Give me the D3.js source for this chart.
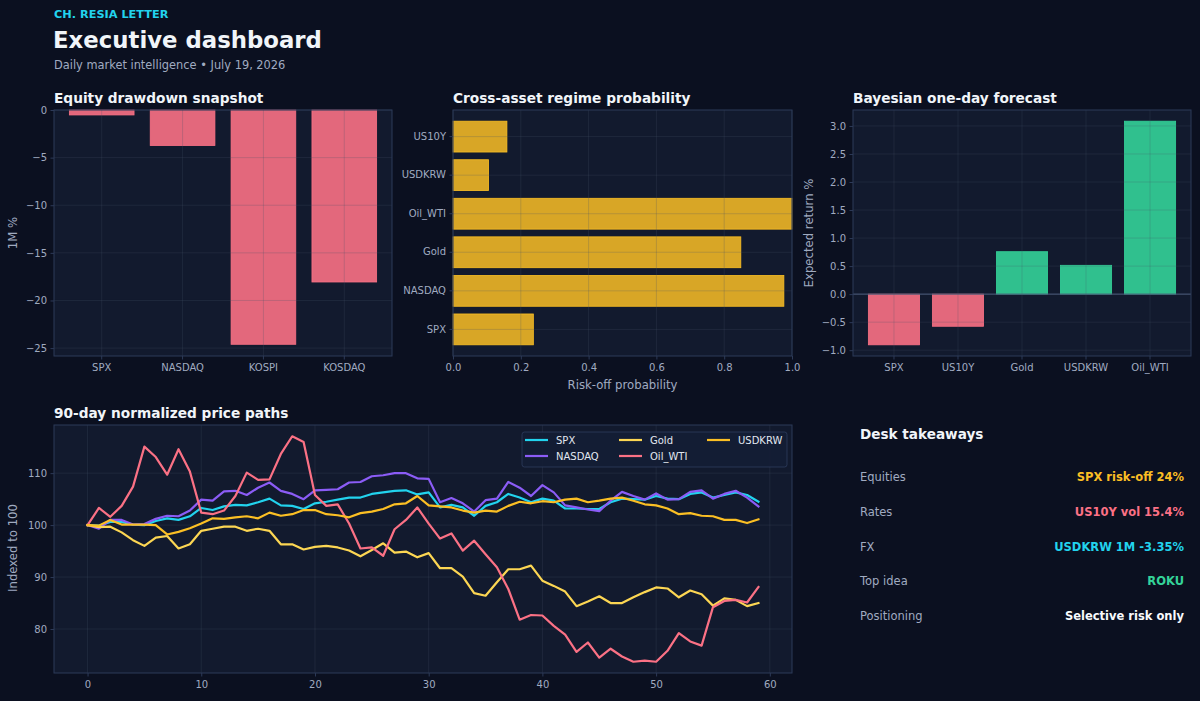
<!DOCTYPE html>
<html><head><meta charset="utf-8">
<script src="https://cdn.jsdelivr.net/npm/d3@7"></script>
<style>
html,body{margin:0;padding:0;background:#0b1020;}
svg{display:block;font-family:"DejaVu Sans",sans-serif;}
</style></head><body>
<svg id="c" width="1200" height="701"></svg>
<script>
// ---------------- DATA ----------------
const drawdownCats = ["SPX", "NASDAQ", "KOSPI", "KOSDAQ"];
const drawdownVals = [-0.52, -3.73, -24.6, -18.06];
const drawdownTicks = [0, -5, -10, -15, -20, -25];

const regimeCats = ["SPX", "NASDAQ", "Gold", "Oil_WTI", "USDKRW", "US10Y"];
const regimeVals = [0.237, 0.976, 0.849, 1.0, 0.105, 0.159];
const regimeTicks = [0, 0.2, 0.4, 0.6, 0.8, 1.0];

const forecastCats = ["SPX", "US10Y", "Gold", "USDKRW", "Oil_WTI"];
const forecastVals = [-0.904, -0.573, 0.757, 0.514, 3.085];
const forecastTicks = [-1.0, -0.5, 0, 0.5, 1.0, 1.5, 2.0, 2.5, 3.0];

const pathNames = ["SPX", "NASDAQ", "Gold", "Oil_WTI", "USDKRW"];
const spxPath = [100,99.9,100.6,100.6,100.1,100.0,100.8,101.3,101.0,101.7,103.3,102.9,103.6,103.9,103.8,104.4,105.1,103.8,103.7,103.1,104.2,104.5,104.9,105.3,105.3,106.0,106.3,106.6,106.7,105.9,106.3,103.4,103.9,103.4,101.8,103.7,104.4,106.0,105.3,104.4,105.1,104.7,103.2,103.2,103.1,103.1,104.4,105.1,105.0,104.9,105.6,105.1,105.0,106.0,106.3,105.3,105.8,106.3,105.8,104.5];
const nasdaqPath = [100,99.3,101.0,101.0,100.1,100.2,101.2,101.8,101.7,102.8,104.9,104.7,106.5,106.6,105.8,107.2,108.2,106.6,106.0,105.0,106.7,106.8,106.9,108.2,108.3,109.4,109.6,110.0,110.0,109.0,108.9,104.4,105.2,104.2,102.6,104.8,105.1,108.3,107.2,105.6,107.7,106.3,103.8,103.4,103.0,102.7,104.7,106.4,105.6,104.9,106.1,104.9,105.0,106.4,106.7,105.1,106.0,106.6,105.3,103.6];
const goldPath = [100,99.6,99.7,98.6,97.1,96.0,97.6,97.9,95.5,96.3,98.9,99.3,99.7,99.7,98.9,99.3,98.9,96.3,96.3,95.3,95.8,96.0,95.7,95.1,94.0,95.2,96.5,94.7,94.9,93.8,94.6,91.7,91.7,90.1,86.9,86.4,89.0,91.5,91.5,92.2,89.3,88.3,87.2,84.4,85.3,86.3,85.0,85.0,86.1,87.1,88.0,87.8,86.1,87.4,86.7,84.5,85.9,85.6,84.4,85.0];
const oilPath = [100,103.3,101.6,103.7,107.4,115.1,113.1,109.7,114.6,110.3,102.4,102.1,102.8,105.6,110.1,108.7,108.8,113.7,117.1,116.0,105.8,103.7,104.0,100.3,95.5,95.7,94.1,99.2,101.0,103.4,100.3,97.4,98.4,95.1,97.0,94.4,91.9,87.7,81.8,82.7,82.6,80.6,78.9,75.6,77.4,74.5,76.2,74.7,73.7,73.9,73.7,75.8,79.2,77.6,76.8,84.2,85.4,85.6,85.1,88.1];
const usdkrwPath = [100,99.9,101.0,100.1,100.1,100.1,100.0,98.2,98.7,99.4,100.3,101.3,101.2,101.5,101.7,101.3,102.4,101.8,102.1,102.9,102.9,102.1,101.9,101.5,102.3,102.6,103.1,104.0,104.2,105.6,103.8,103.6,103.4,102.8,102.4,102.8,102.6,103.7,104.5,104.2,104.6,104.4,104.9,105.1,104.4,104.7,105.1,105.3,104.7,104.0,103.8,103.2,102.1,102.3,101.8,101.7,101.0,101.0,100.4,101.1];
const pathTicksX = [0, 10, 20, 30, 40, 50, 60];
const pathTicksY = [80, 90, 100, 110];

const takeLabels = ["Equities", "Rates", "FX", "Top idea", "Positioning"];
const takeValues = ["SPX risk-off 24%", "US10Y vol 15.4%", "USDKRW 1M -3.35%", "ROKU", "Selective risk only"];

// ---------------- STYLE ----------------
const C = {
  bg: "#0b1020", panel: "#121a2e", spine: "#2d3a58", grid: "#475569",
  tick: "#a0abc0", title: "#f1f5f9", pink: "#fb7185", gold: "#fbbf24",
  green: "#34d399", cyan: "#22d3ee", purple: "#8b5cf6", lightGold: "#fcd653"
};
const pathColors = [C.cyan, C.purple, C.lightGold, C.pink, C.gold];
const takeColors = [C.gold, C.pink, C.cyan, C.green, "#f8fafc"];
const TICK_FS = 10, LABEL_FS = 11.7;

const svg = d3.select("#c");
svg.append("rect").attr("width", 1200).attr("height", 701).attr("fill", C.bg);

// header
svg.append("text").attr("x", 54).attr("y", 18).attr("fill", C.cyan)
  .attr("font-size", 11.3).attr("font-weight", "bold").text("CH. RESIA LETTER");
svg.append("text").attr("x", 53).attr("y", 48).attr("fill", C.title)
  .attr("font-size", 22.8).attr("font-weight", "bold").text("Executive dashboard");
svg.append("text").attr("x", 54).attr("y", 69).attr("fill", C.tick)
  .attr("font-size", 11.4).text("Daily market intelligence \u2022 July 19, 2026");

function panel(b, title) {
  const g = svg.append("g");
  g.append("rect").attr("x", b.l).attr("y", b.t).attr("width", b.r - b.l).attr("height", b.b - b.t)
    .attr("fill", C.panel);
  svg.append("text").attr("x", b.l).attr("y", b.t - 7).attr("fill", C.title)
    .attr("font-size", 13.7).attr("font-weight", "bold").text(title);
  return g;
}
function frame(b) {
  svg.append("rect").attr("x", b.l).attr("y", b.t).attr("width", b.r - b.l).attr("height", b.b - b.t)
    .attr("fill", "none").attr("stroke", C.spine).attr("stroke-width", 1);
}
function styleAxis(sel) {
  sel.select(".domain").remove();
  sel.selectAll(".tick line").attr("stroke", C.spine).attr("stroke-width", 1);
  sel.selectAll(".tick text").attr("fill", C.tick).attr("font-size", TICK_FS)
    .attr("font-family", "DejaVu Sans, sans-serif");
}
function gridX(g, scale, ticks, b) {
  g.append("g").selectAll("line").data(ticks).join("line")
    .attr("x1", d => scale(d)).attr("x2", d => scale(d)).attr("y1", b.t).attr("y2", b.b)
    .attr("stroke", C.grid).attr("stroke-opacity", 0.3).attr("stroke-width", 0.8);
}
function gridY(g, scale, ticks, b) {
  g.append("g").selectAll("line").data(ticks).join("line")
    .attr("y1", d => scale(d)).attr("y2", d => scale(d)).attr("x1", b.l).attr("x2", b.r)
    .attr("stroke", C.grid).attr("stroke-opacity", 0.3).attr("stroke-width", 0.8);
}
function yLabel(x, y, text) {
  svg.append("text").attr("transform", `translate(${x},${y}) rotate(-90)`).attr("text-anchor", "middle")
    .attr("fill", C.tick).attr("font-size", LABEL_FS).text(text);
}
const fmtInt = d3.format("d"), fmt1 = d3.format(".1f");

// ---------------- Panel 1: drawdown ----------------
{
  const b = {l: 54, r: 392, t: 110, b: 356};
  const g = panel(b, "Equity drawdown snapshot");
  const n = drawdownCats.length;
  const x = d3.scaleBand().domain(drawdownCats).range([b.l, b.r]).paddingInner(0.2).paddingOuter(0.05 * (n - 0.2));
  const mn = d3.min(drawdownVals);
  const y = d3.scaleLinear().domain([mn + 0.05 * mn, 0]).range([b.b, b.t]);
  g.selectAll(".bar").data(drawdownVals).join("rect")
    .attr("x", (d, i) => x(drawdownCats[i])).attr("width", x.bandwidth())
    .attr("y", y(0)).attr("height", d => y(d) - y(0))
    .attr("fill", C.pink).attr("fill-opacity", 0.9).attr("stroke", C.pink).attr("stroke-width", 0.8);
  gridX(g, d => x(d) + x.bandwidth() / 2, drawdownCats, b);
  gridY(g, y, drawdownTicks, b);
  frame(b);
  svg.append("g").attr("transform", `translate(0,${b.b})`)
    .call(d3.axisBottom(x).tickSize(3.5).tickPadding(4.5)).call(styleAxis);
  svg.append("g").attr("transform", `translate(${b.l},0)`)
    .call(d3.axisLeft(y).tickValues(drawdownTicks).tickFormat(fmtInt).tickSize(3.5).tickPadding(3.5)).call(styleAxis);
  yLabel(17, 233, "1M %");
}

// ---------------- Panel 2: regime probability ----------------
{
  const b = {l: 453, r: 792, t: 110, b: 356};
  const g = panel(b, "Cross-asset regime probability");
  const n = regimeCats.length;
  const y = d3.scaleBand().domain(regimeCats).range([b.b, b.t]).paddingInner(0.2).paddingOuter(0.05 * (n - 0.2));
  const x = d3.scaleLinear().domain([0, 1]).range([b.l, b.r]);
  g.selectAll(".bar").data(regimeVals).join("rect")
    .attr("y", (d, i) => y(regimeCats[i])).attr("height", y.bandwidth())
    .attr("x", x(0)).attr("width", d => x(d) - x(0))
    .attr("fill", C.gold).attr("fill-opacity", 0.85).attr("stroke", C.gold).attr("stroke-width", 0.8);
  gridX(g, x, regimeTicks, b);
  gridY(g, d => y(d) + y.bandwidth() / 2, regimeCats, b);
  frame(b);
  svg.append("g").attr("transform", `translate(0,${b.b})`)
    .call(d3.axisBottom(x).tickValues(regimeTicks).tickFormat(fmt1).tickSize(3.5).tickPadding(4.5)).call(styleAxis);
  svg.append("g").attr("transform", `translate(${b.l},0)`)
    .call(d3.axisLeft(y).tickSize(3.5).tickPadding(3.5)).call(styleAxis);
  svg.append("text").attr("x", (b.l + b.r) / 2).attr("y", 389).attr("text-anchor", "middle")
    .attr("fill", C.tick).attr("font-size", LABEL_FS).text("Risk-off probability");
}

// ---------------- Panel 3: forecast ----------------
{
  const b = {l: 853, r: 1191, t: 110, b: 356};
  const g = panel(b, "Bayesian one-day forecast");
  const n = forecastCats.length;
  const x = d3.scaleBand().domain(forecastCats).range([b.l, b.r]).paddingInner(0.2).paddingOuter(0.05 * (n - 0.2));
  const [mn, mx] = d3.extent(forecastVals);
  const pad = 0.05 * (mx - mn);
  const y = d3.scaleLinear().domain([mn - pad, mx + pad]).range([b.b, b.t]);
  g.selectAll(".bar").data(forecastVals).join("rect")
    .attr("x", (d, i) => x(forecastCats[i])).attr("width", x.bandwidth())
    .attr("y", d => y(Math.max(0, d))).attr("height", d => Math.abs(y(d) - y(0)))
    .attr("fill", d => d < 0 ? C.pink : C.green).attr("fill-opacity", 0.9)
    .attr("stroke", d => d < 0 ? C.pink : C.green).attr("stroke-width", 0.8);
  gridX(g, d => x(d) + x.bandwidth() / 2, forecastCats, b);
  gridY(g, y, forecastTicks, b);
  g.append("line").attr("x1", b.l).attr("x2", b.r).attr("y1", y(0)).attr("y2", y(0))
    .attr("stroke", "#4b5b7a").attr("stroke-width", 1);
  frame(b);
  svg.append("g").attr("transform", `translate(0,${b.b})`)
    .call(d3.axisBottom(x).tickSize(3.5).tickPadding(4.5)).call(styleAxis);
  svg.append("g").attr("transform", `translate(${b.l},0)`)
    .call(d3.axisLeft(y).tickValues(forecastTicks).tickFormat(fmt1).tickSize(3.5).tickPadding(3.5)).call(styleAxis);
  yLabel(813, 233, "Expected return %");
}

// ---------------- Panel 4: price paths ----------------
{
  const b = {l: 54, r: 792, t: 425, b: 673};
  const g = panel(b, "90-day normalized price paths");
  const series = [spxPath, nasdaqPath, goldPath, oilPath, usdkrwPath];
  const n = spxPath.length;
  const xPad = 0.05 * (n - 1);
  const x = d3.scaleLinear().domain([-xPad, n - 1 + xPad]).range([b.l, b.r]);
  const all = series.flat();
  const [mn, mx] = d3.extent(all);
  const yPad = 0.05 * (mx - mn);
  const y = d3.scaleLinear().domain([mn - yPad, mx + yPad]).range([b.b, b.t]);
  gridX(g, x, pathTicksX, b);
  gridY(g, y, pathTicksY, b);
  const line = d3.line().x((d, i) => x(i)).y(d => y(d));
  g.selectAll(".path").data(series).join("path")
    .attr("d", line).attr("fill", "none").attr("stroke", (d, i) => pathColors[i])
    .attr("stroke-width", 2.2).attr("stroke-linejoin", "round").attr("stroke-linecap", "square");
  frame(b);
  svg.append("g").attr("transform", `translate(0,${b.b})`)
    .call(d3.axisBottom(x).tickValues(pathTicksX).tickFormat(fmtInt).tickSize(3.5).tickPadding(4.5)).call(styleAxis);
  svg.append("g").attr("transform", `translate(${b.l},0)`)
    .call(d3.axisLeft(y).tickValues(pathTicksY).tickFormat(fmtInt).tickSize(3.5).tickPadding(3.5)).call(styleAxis);
  yLabel(17, 548, "Indexed to 100");

  // legend
  const lg = svg.append("g");
  lg.append("rect").attr("x", 522).attr("y", 432).attr("width", 265).attr("height", 35).attr("rx", 2.5)
    .attr("fill", "#141d35").attr("fill-opacity", 0.95).attr("stroke", "#2f3d5e").attr("stroke-width", 0.8);
  const colX = [525, 619, 707];
  pathNames.forEach((name, i) => {
    const col = Math.floor(i / 2), row = i % 2;
    const yy = 440 + row * 16;
    lg.append("line").attr("x1", colX[col]).attr("x2", colX[col] + 23).attr("y1", yy).attr("y2", yy)
      .attr("stroke", pathColors[i]).attr("stroke-width", 2.2);
    lg.append("text").attr("x", colX[col] + 31).attr("y", yy + 3.8).attr("fill", "#e2e8f0")
      .attr("font-size", 10).text(name);
  });
}

// ---------------- Takeaways ----------------
{
  svg.append("text").attr("x", 860).attr("y", 439).attr("fill", C.title)
    .attr("font-size", 13.6).attr("font-weight", "bold").text("Desk takeaways");
  const rowY = d3.scalePoint().domain(takeLabels).range([481, 620]);
  svg.append("g").selectAll("text").data(takeLabels).join("text")
    .attr("x", 860).attr("y", d => rowY(d)).attr("fill", C.tick).attr("font-size", 11.5).text(d => d);
  svg.append("g").selectAll("text").data(takeValues).join("text")
    .attr("x", 1184).attr("y", (d, i) => rowY(takeLabels[i])).attr("text-anchor", "end")
    .attr("fill", (d, i) => takeColors[i]).attr("font-size", 11.5).attr("font-weight", "bold").text(d => d);
}
</script>
</body></html>
